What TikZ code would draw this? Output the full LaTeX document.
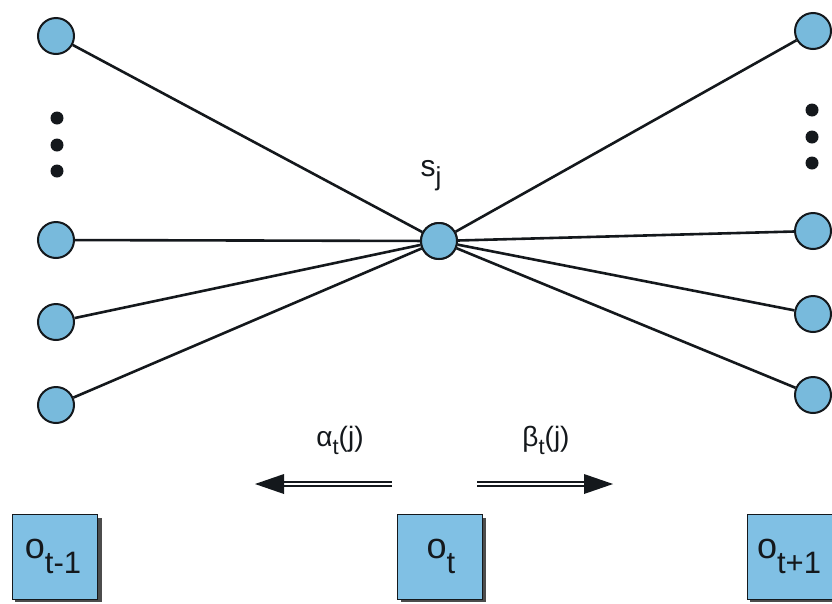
\documentclass[tikz,border=0pt]{standalone}
\usepackage{fontspec}
\setmainfont{Liberation Sans}
\definecolor{circfill}{RGB}{120,186,220}
\definecolor{boxfill}{RGB}{128,192,228}
\definecolor{inkc}{RGB}{20,24,28}
\begin{document}
\begin{tikzpicture}[x=1pt,y=-1pt,
  state/.style={circle,draw=inkc,line width=2pt,fill=circfill,minimum size=36pt,inner sep=0pt},
  dotmark/.style={circle,fill=inkc,minimum size=13pt,inner sep=0pt},
  edge/.style={draw=inkc,line width=2.6pt},
  obsbox/.style={rectangle,draw=inkc,line width=1.8pt,fill=boxfill,minimum width=85pt,minimum height=85pt,inner sep=0pt},
  dbl/.style={draw=inkc,line width=2.2pt,double=white,double distance=2.4pt},
  lbl/.style={font=\fontsize{28}{28}\selectfont,text=inkc,inner sep=0pt}
]
\useasboundingbox (0,0) rectangle (832,603);
% center state
\node[state] (c) at (439,241) {};
\node[lbl,font=\fontsize{30}{30}\selectfont] (sj) at (431,176) {s\raisebox{-9pt}{\fontsize{26}{26}\selectfont j}};
% left states
\node[state] (L1) at (56,36) {};
\node[state] (L2) at (56,240) {};
\node[state] (L3) at (56,322) {};
\node[state] (L4) at (56,405) {};
\node[dotmark] (ld1) at (57,118) {};
\node[dotmark] (ld2) at (57,145) {};
\node[dotmark] (ld3) at (57,171) {};
% right states
\node[state] (R1) at (813,31) {};
\node[state] (R2) at (813,231) {};
\node[state] (R3) at (813,314) {};
\node[state] (R4) at (813,395) {};
\node[dotmark] (rd1) at (812,110) {};
\node[dotmark] (rd2) at (812,137) {};
\node[dotmark] (rd3) at (812,163) {};
% edges
\foreach \n in {L1,L2,L3,L4,R1,R2,R3,R4} \draw[edge] (\n) -- (c);
\node[state] at (c) {};
% arrows
\coordinate (a1) at (392,484);
\coordinate (a2) at (284,484);
\coordinate (a3) at (255,484);
\coordinate (b1) at (477,484);
\coordinate (b2) at (584,484);
\coordinate (b3) at (613,484);
\draw[dbl] (a1) -- (a2);
\fill[inkc] (a3) -- ([yshift=-10pt]a2) -- ([yshift=10pt]a2) -- cycle;
\draw[dbl] (b1) -- (b2);
\fill[inkc] (b3) -- ([yshift=-10pt]b2) -- ([yshift=10pt]b2) -- cycle;
\node[lbl] (alpha) at (340,440) {α\raisebox{-8pt}{\fontsize{22}{22}\selectfont t}(j)};
\node[lbl] (beta) at (546,440) {β\raisebox{-8pt}{\fontsize{22}{22}\selectfont t}(j)};
% observation boxes
\fill[black!70] (15,518) rectangle (102,602);
\node[obsbox] (o1) at (55,557) {};
\node[lbl,font=\fontsize{36}{36}\selectfont] at (53,556) {o\raisebox{-15pt}{\fontsize{31}{31}\selectfont t-1}};
\fill[black!70] (401,518) rectangle (486,602);
\node[obsbox] (o2) at (440,557) {};
\node[lbl,font=\fontsize{36}{36}\selectfont] at (441,556) {o\raisebox{-15pt}{\fontsize{31}{31}\selectfont t}};
\fill[black!70] (750,518) rectangle (836,602);
\node[obsbox] (o3) at (790,557) {};
\node[lbl,font=\fontsize{36}{36}\selectfont] at (789,556) {o\raisebox{-15pt}{\fontsize{31}{31}\selectfont t+1}};
\end{tikzpicture}
\end{document}
